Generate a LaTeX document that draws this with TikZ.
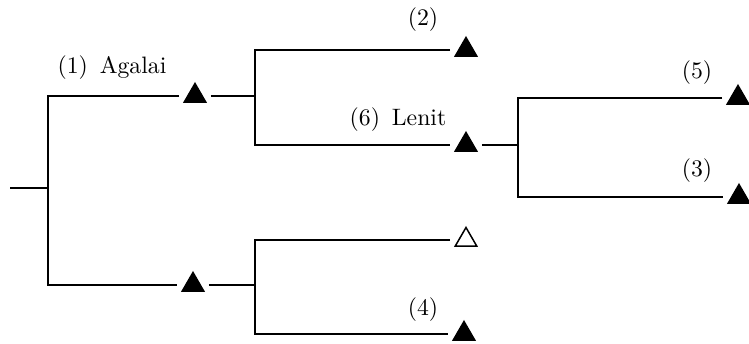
\documentclass[tikz,border=0pt]{standalone}
\usetikzlibrary{shapes.geometric}
\begin{document}
\begin{tikzpicture}[x=0.4pt,y=-0.4pt,line width=0.75pt,
    tri/.style={regular polygon,regular polygon sides=3,draw,fill=black,
      line width=0.6pt,inner sep=0pt,minimum size=10pt,outer sep=3pt},
    opentri/.style={tri,fill=white},
    lbl/.style={font=\fontsize{9.5}{11}\selectfont,inner sep=0pt}]
  \useasboundingbox (0,0) rectangle (749,344);
  % leaves and inner nodes
  \node[tri] (t1) at (195,96) {};
  \node[tri] (tb) at (193,285) {};
  \node[tri] (t2) at (466,50) {};
  \node[tri] (t6) at (466,145) {};
  \node[opentri] (to) at (466,240) {};
  \node[tri] (t4) at (464,334) {};
  \node[tri] (t5) at (738,98) {};
  \node[tri] (t3) at (739,197) {};
  % forks
  \coordinate (r0) at (10,188);
  \coordinate (f0) at (48,188);
  \coordinate (f1) at (255,96);
  \coordinate (f2) at (518,145);
  \coordinate (f3) at (255,285);
  % labels
  \node[lbl] (l1) at (112,68) {(1)\enspace Agalai};
  \node[lbl] (l2) at (423,20) {(2)};
  \node[lbl] (l6) at (398,120) {(6)\enspace Lenit};
  \node[lbl] (l5) at (697,73) {(5)};
  \node[lbl] (l3) at (697,171) {(3)};
  \node[lbl] (l4) at (423,310) {(4)};
  % branches
  \draw (r0) -- (f0);
  \draw (t1) -| (f0) |- (tb);
  \draw (t1) -- (f1);
  \draw (t2) -| (f1) |- (t6);
  \draw (t6) -- (f2);
  \draw (t5) -| (f2) |- (t3);
  \draw (tb) -- (f3);
  \draw (to) -| (f3) |- (t4);
\end{tikzpicture}
\end{document}
